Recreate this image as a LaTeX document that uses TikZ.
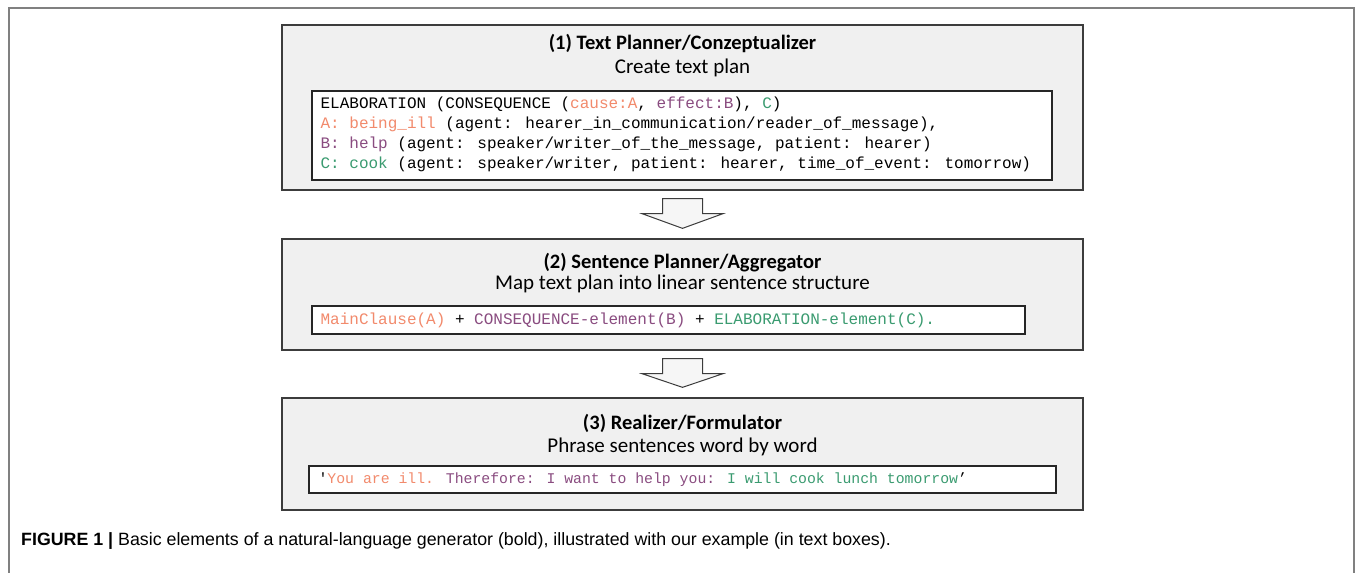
\documentclass[tikz,border=0pt]{standalone}
\usepackage{fontspec}
\setmainfont{Carlito}
\newfontfamily\codefont{Liberation Mono}
\newfontfamily\capfont{Liberation Sans}
\usetikzlibrary{calc}
\definecolor{framec}{HTML}{808080}
\definecolor{stagefill}{HTML}{F0F0F0}
\definecolor{stageline}{HTML}{3C3C3C}
\definecolor{orng}{HTML}{F28A6C}
\definecolor{purp}{HTML}{8A4C80}
\definecolor{grn}{HTML}{3A9B70}
\newcommand\cO[1]{\textcolor{orng}{#1}}
\newcommand\cP[1]{\textcolor{purp}{#1}}
\newcommand\cG[1]{\textcolor{grn}{#1}}
\begin{document}
\begin{tikzpicture}[x=1pt,y=-1pt,
  stage/.style={draw=stageline, fill=stagefill, line width=1.3pt, minimum width=801pt, inner sep=0pt},
  codebox/.style={draw=black!85, fill=white, line width=1.2pt, inner sep=0pt},
  title/.style={font=\bfseries\fontsize{20.5}{24}\selectfont, inner sep=0pt},
  subtitle/.style={font=\fontsize{21}{24}\selectfont, inner sep=0pt},
  code/.style={font=\codefont\fontsize{16}{20}\selectfont, align=left, inner sep=0pt, anchor=west},
  blockarrow/.style={draw=stageline, fill=stagefill!60, line width=1pt, line join=miter}]
\useasboundingbox (0,0) rectangle (1355,573);

% outer frame, open at the bottom
\draw[framec, line width=1.5pt] (9,573) -- (9,8) -- (1354,8) -- (1354,573);

% stage 1
\node[stage, minimum height=165pt] (s1) at (682.5,107.5) {};
\node[title] (t1) at (682.5,44) {(1) Text Planner/Conzeptualizer};
\node[subtitle] (u1) at (682.5,68) {Create text plan};
\node[codebox, minimum width=740pt, minimum height=89pt] (c1) at (682,135.5) {};
\node[code] (x1) at ($(c1.west)+(9,-1)$) {%
ELABORATION (CONSEQUENCE (\cO{cause:A}, \cP{effect:B}), \cG{C})\\
\cO{A: being\_ill} (agent: hearer\_in\_communication/reader\_of\_message),\\
\cP{B: help} (agent: speaker/writer\_of\_the\_message, patient: hearer)\\
\cG{C: cook} (agent: speaker/writer, patient: hearer, time\_of\_event: tomorrow)};

% stage 2
\node[stage, minimum height=111pt] (s2) at (682.5,294.5) {};
\node[title] (t2) at (682.5,263) {(2) Sentence Planner/Aggregator};
\node[subtitle] (u2) at (682.5,284) {Map text plan into linear sentence structure};
\node[codebox, minimum width=713pt, minimum height=28pt] (c2) at (668.5,320) {};
\node[code] (x2) at ($(c2.west)+(9,0)$) {%
\cO{MainClause(A)} + \cP{CONSEQUENCE-element(B)} + \cG{ELABORATION-element(C).}};

% stage 3
\node[stage, minimum height=112pt] (s3) at (682.5,454) {};
\node[title] (t3) at (682.5,423) {(3) Realizer/Formulator};
\node[subtitle] (u3) at (682.5,447) {Phrase sentences word by word};
\node[codebox, minimum width=747pt, minimum height=27pt] (c3) at (682.5,479.5) {};
\node[code, font=\codefont\fontsize{14.8}{18}\selectfont] (x3) at ($(c3.west)+(10,0)$) {%
\char"0027\cO{You are ill.} \cP{Therefore: I want to help you:} \cG{I will cook lunch tomorrow}’};

% block arrows between the stages
\foreach \a/\b in {s1/s2, s2/s3}{
  \draw[blockarrow]
    ($(\a.south)+(-20,8)$) -- ($(\a.south)+(20,8)$) -- ($(\a.south)+(20,23)$)
    -- ($(\a.south)+(40.5,23)$) -- ($(\b.north)+(0,-10)$)
    -- ($(\a.south)+(-40.5,23)$) -- ($(\a.south)+(-20,23)$) -- cycle;
}

% caption
\node[anchor=west, inner sep=0pt, font=\capfont\fontsize{17.8}{20}\selectfont] (cap) at (21,541)
  {\textbf{FIGURE 1 |} Basic elements of a natural-language generator (bold), illustrated with our example (in text boxes).};
\end{tikzpicture}
\end{document}
